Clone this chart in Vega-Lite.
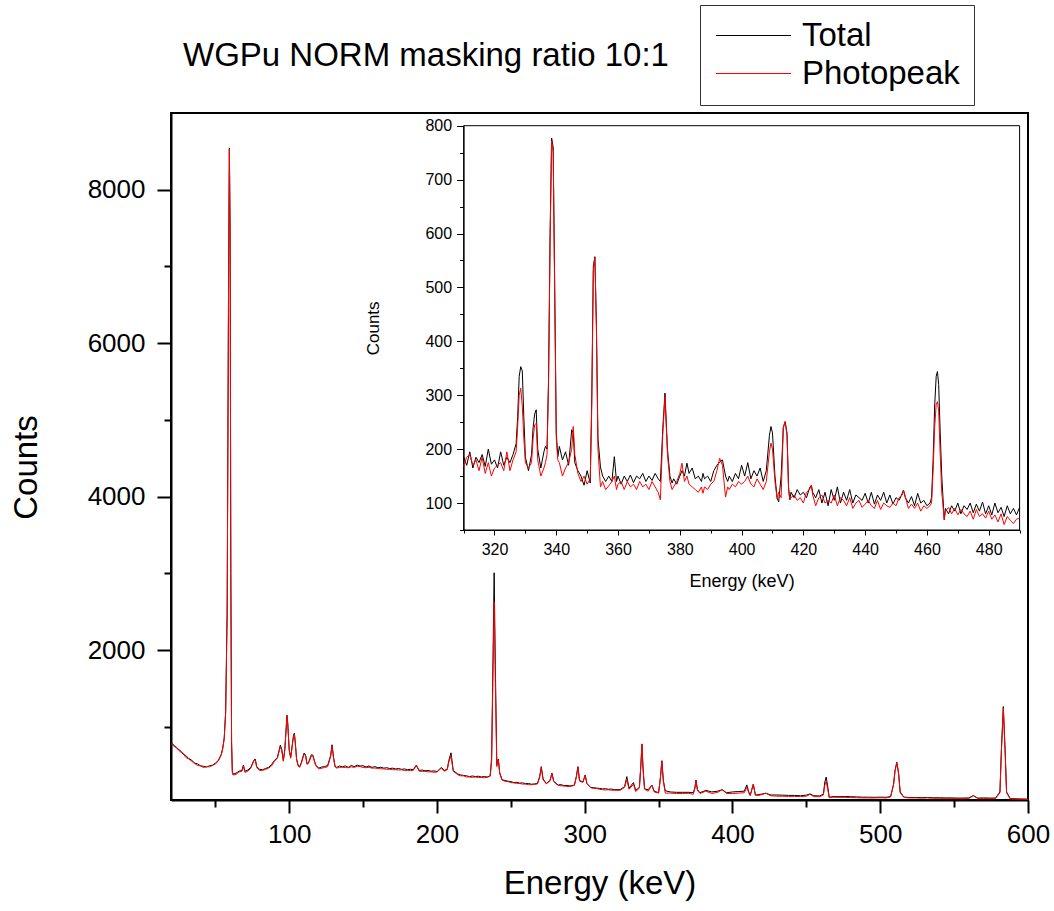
{
  "$schema": "https://vega.github.io/schema/vega-lite/v6.json",
  "width": 857,
  "height": 687,
  "autosize": "none",
  "padding": {"left": 171, "top": 113, "right": 26, "bottom": 111},
  "background": "white",
  "config": {
    "font": "Liberation Sans",
    "view": {"stroke": "black", "strokeWidth": 2},
    "axis": {"labelFont": "Liberation Sans", "titleFont": "Liberation Sans", "labelColor": "black", "titleColor": "black", "titleFontWeight": "normal", "grid": false, "domainColor": "black", "tickColor": "black"},
    "legend": {"labelFont": "Liberation Sans"}
  },
  "title": {"text": "WGPu NORM masking ratio 10:1", "anchor": "start", "frame": "group", "dx": 12, "offset": -94, "fontSize": 33, "fontWeight": "normal", "font": "Liberation Sans", "baseline": "alphabetic", "color": "black"},
  "datasets": {
    "main": [
      {"E": 20, "Total": 790, "Photopeak": 780},
      {"E": 22, "Total": 760, "Photopeak": 745},
      {"E": 24, "Total": 715, "Photopeak": 730},
      {"E": 26, "Total": 695, "Photopeak": 675},
      {"E": 28, "Total": 645, "Photopeak": 660},
      {"E": 30, "Total": 625, "Photopeak": 600},
      {"E": 32, "Total": 585, "Photopeak": 580},
      {"E": 34, "Total": 565, "Photopeak": 550},
      {"E": 36, "Total": 525, "Photopeak": 520},
      {"E": 38, "Total": 515, "Photopeak": 495},
      {"E": 40, "Total": 490, "Photopeak": 490},
      {"E": 42, "Total": 485, "Photopeak": 468},
      {"E": 44, "Total": 475, "Photopeak": 480},
      {"E": 46, "Total": 490, "Photopeak": 478},
      {"E": 48, "Total": 498, "Photopeak": 495},
      {"E": 50, "Total": 525, "Photopeak": 512},
      {"E": 52, "Total": 560, "Photopeak": 555},
      {"E": 54, "Total": 640, "Photopeak": 630},
      {"E": 55, "Total": 720, "Photopeak": 710},
      {"E": 56, "Total": 850, "Photopeak": 840},
      {"E": 57, "Total": 1200, "Photopeak": 1180},
      {"E": 58, "Total": 2500, "Photopeak": 2450},
      {"E": 59, "Total": 7000, "Photopeak": 6950},
      {"E": 59.5, "Total": 8540, "Photopeak": 8530},
      {"E": 60, "Total": 7500, "Photopeak": 7450},
      {"E": 60.5, "Total": 3000, "Photopeak": 2950},
      {"E": 61, "Total": 800, "Photopeak": 780},
      {"E": 61.5, "Total": 420, "Photopeak": 410},
      {"E": 62, "Total": 380, "Photopeak": 370},
      {"E": 64, "Total": 395, "Photopeak": 378},
      {"E": 66, "Total": 420, "Photopeak": 410},
      {"E": 68, "Total": 430, "Photopeak": 420},
      {"E": 69, "Total": 500, "Photopeak": 490},
      {"E": 70, "Total": 420, "Photopeak": 405},
      {"E": 72, "Total": 435, "Photopeak": 420},
      {"E": 74, "Total": 470, "Photopeak": 460},
      {"E": 76, "Total": 560, "Photopeak": 550},
      {"E": 77, "Total": 580, "Photopeak": 570},
      {"E": 78, "Total": 480, "Photopeak": 470},
      {"E": 80, "Total": 445, "Photopeak": 428},
      {"E": 82, "Total": 440, "Photopeak": 432},
      {"E": 84, "Total": 455, "Photopeak": 443},
      {"E": 86, "Total": 470, "Photopeak": 460},
      {"E": 88, "Total": 505, "Photopeak": 488},
      {"E": 90, "Total": 560, "Photopeak": 550},
      {"E": 92, "Total": 600, "Photopeak": 590},
      {"E": 94, "Total": 760, "Photopeak": 740},
      {"E": 95, "Total": 700, "Photopeak": 690},
      {"E": 96, "Total": 560, "Photopeak": 550},
      {"E": 97, "Total": 700, "Photopeak": 690},
      {"E": 98, "Total": 1000, "Photopeak": 990},
      {"E": 98.5, "Total": 1150, "Photopeak": 1140},
      {"E": 99, "Total": 1050, "Photopeak": 1040},
      {"E": 100, "Total": 700, "Photopeak": 690},
      {"E": 101, "Total": 600, "Photopeak": 590},
      {"E": 102, "Total": 750, "Photopeak": 740},
      {"E": 103, "Total": 900, "Photopeak": 890},
      {"E": 103.5, "Total": 915, "Photopeak": 900},
      {"E": 104, "Total": 820, "Photopeak": 810},
      {"E": 105, "Total": 580, "Photopeak": 570},
      {"E": 106, "Total": 500, "Photopeak": 490},
      {"E": 107, "Total": 480, "Photopeak": 470},
      {"E": 108, "Total": 520, "Photopeak": 510},
      {"E": 110, "Total": 655, "Photopeak": 640},
      {"E": 111, "Total": 640, "Photopeak": 630},
      {"E": 112, "Total": 520, "Photopeak": 510},
      {"E": 113, "Total": 530, "Photopeak": 520},
      {"E": 115, "Total": 635, "Photopeak": 620},
      {"E": 116, "Total": 630, "Photopeak": 620},
      {"E": 117, "Total": 560, "Photopeak": 550},
      {"E": 118, "Total": 500, "Photopeak": 490},
      {"E": 120, "Total": 460, "Photopeak": 450},
      {"E": 122, "Total": 475, "Photopeak": 458},
      {"E": 124, "Total": 480, "Photopeak": 470},
      {"E": 126, "Total": 495, "Photopeak": 478},
      {"E": 128, "Total": 620, "Photopeak": 610},
      {"E": 129, "Total": 765, "Photopeak": 750},
      {"E": 130, "Total": 600, "Photopeak": 590},
      {"E": 131, "Total": 490, "Photopeak": 480},
      {"E": 132, "Total": 470, "Photopeak": 460},
      {"E": 134, "Total": 488, "Photopeak": 470},
      {"E": 136, "Total": 478, "Photopeak": 472},
      {"E": 138, "Total": 490, "Photopeak": 468},
      {"E": 140, "Total": 470, "Photopeak": 465},
      {"E": 142, "Total": 495, "Photopeak": 478},
      {"E": 144, "Total": 480, "Photopeak": 470},
      {"E": 146, "Total": 500, "Photopeak": 485},
      {"E": 148, "Total": 488, "Photopeak": 480},
      {"E": 150, "Total": 492, "Photopeak": 470},
      {"E": 152, "Total": 475, "Photopeak": 465},
      {"E": 154, "Total": 488, "Photopeak": 472},
      {"E": 156, "Total": 470, "Photopeak": 460},
      {"E": 158, "Total": 480, "Photopeak": 462},
      {"E": 160, "Total": 465, "Photopeak": 455},
      {"E": 162, "Total": 472, "Photopeak": 452},
      {"E": 164, "Total": 460, "Photopeak": 450},
      {"E": 166, "Total": 466, "Photopeak": 446},
      {"E": 168, "Total": 455, "Photopeak": 445},
      {"E": 170, "Total": 460, "Photopeak": 440},
      {"E": 172, "Total": 450, "Photopeak": 440},
      {"E": 174, "Total": 455, "Photopeak": 436},
      {"E": 176, "Total": 445, "Photopeak": 438},
      {"E": 178, "Total": 450, "Photopeak": 430},
      {"E": 180, "Total": 440, "Photopeak": 432},
      {"E": 182, "Total": 446, "Photopeak": 428},
      {"E": 184, "Total": 440, "Photopeak": 432},
      {"E": 186, "Total": 500, "Photopeak": 495},
      {"E": 188, "Total": 430, "Photopeak": 420},
      {"E": 190, "Total": 436, "Photopeak": 418},
      {"E": 192, "Total": 425, "Photopeak": 418},
      {"E": 194, "Total": 430, "Photopeak": 412},
      {"E": 196, "Total": 420, "Photopeak": 412},
      {"E": 198, "Total": 425, "Photopeak": 406},
      {"E": 200, "Total": 415, "Photopeak": 410},
      {"E": 203, "Total": 470, "Photopeak": 460},
      {"E": 205, "Total": 430, "Photopeak": 420},
      {"E": 207, "Total": 450, "Photopeak": 440},
      {"E": 208, "Total": 560, "Photopeak": 540},
      {"E": 209.5, "Total": 660, "Photopeak": 620},
      {"E": 211, "Total": 430, "Photopeak": 420},
      {"E": 214, "Total": 385, "Photopeak": 375},
      {"E": 216, "Total": 372, "Photopeak": 360},
      {"E": 218, "Total": 365, "Photopeak": 360},
      {"E": 220, "Total": 360, "Photopeak": 345},
      {"E": 222, "Total": 350, "Photopeak": 345},
      {"E": 224, "Total": 358, "Photopeak": 340},
      {"E": 226, "Total": 350, "Photopeak": 345},
      {"E": 228, "Total": 355, "Photopeak": 338},
      {"E": 230, "Total": 345, "Photopeak": 340},
      {"E": 232, "Total": 350, "Photopeak": 335},
      {"E": 234, "Total": 345, "Photopeak": 340},
      {"E": 236, "Total": 360, "Photopeak": 355},
      {"E": 237, "Total": 600, "Photopeak": 550},
      {"E": 238, "Total": 2000, "Photopeak": 1800},
      {"E": 238.7, "Total": 3007, "Photopeak": 2630},
      {"E": 239.5, "Total": 1800, "Photopeak": 1600},
      {"E": 240.5, "Total": 500, "Photopeak": 480},
      {"E": 241.5, "Total": 580, "Photopeak": 570},
      {"E": 242.5, "Total": 400, "Photopeak": 390},
      {"E": 244, "Total": 310, "Photopeak": 305},
      {"E": 246, "Total": 300, "Photopeak": 290},
      {"E": 248, "Total": 290, "Photopeak": 285},
      {"E": 250, "Total": 285, "Photopeak": 272},
      {"E": 252, "Total": 272, "Photopeak": 268},
      {"E": 254, "Total": 275, "Photopeak": 262},
      {"E": 256, "Total": 265, "Photopeak": 260},
      {"E": 258, "Total": 268, "Photopeak": 252},
      {"E": 260, "Total": 258, "Photopeak": 252},
      {"E": 262, "Total": 260, "Photopeak": 245},
      {"E": 264, "Total": 250, "Photopeak": 245},
      {"E": 266, "Total": 255, "Photopeak": 248},
      {"E": 268, "Total": 260, "Photopeak": 255},
      {"E": 269.5, "Total": 350, "Photopeak": 340},
      {"E": 270.6, "Total": 480, "Photopeak": 470},
      {"E": 271.8, "Total": 320, "Photopeak": 310},
      {"E": 274, "Total": 260, "Photopeak": 255},
      {"E": 276.5, "Total": 300, "Photopeak": 295},
      {"E": 277.8, "Total": 395, "Photopeak": 390},
      {"E": 279, "Total": 290, "Photopeak": 285},
      {"E": 282, "Total": 240, "Photopeak": 235},
      {"E": 284, "Total": 245, "Photopeak": 230},
      {"E": 286, "Total": 232, "Photopeak": 228},
      {"E": 288, "Total": 236, "Photopeak": 222},
      {"E": 290, "Total": 228, "Photopeak": 222},
      {"E": 293, "Total": 240, "Photopeak": 235},
      {"E": 294.3, "Total": 350, "Photopeak": 340},
      {"E": 295.4, "Total": 480, "Photopeak": 470},
      {"E": 296.5, "Total": 300, "Photopeak": 290},
      {"E": 298.8, "Total": 280, "Photopeak": 275},
      {"E": 300.3, "Total": 372, "Photopeak": 365},
      {"E": 301.5, "Total": 260, "Photopeak": 255},
      {"E": 304, "Total": 210, "Photopeak": 205},
      {"E": 306, "Total": 206, "Photopeak": 196},
      {"E": 308, "Total": 200, "Photopeak": 195},
      {"E": 310, "Total": 196, "Photopeak": 184},
      {"E": 312, "Total": 190, "Photopeak": 180},
      {"E": 314, "Total": 192, "Photopeak": 176},
      {"E": 316, "Total": 185, "Photopeak": 178},
      {"E": 318, "Total": 188, "Photopeak": 172},
      {"E": 320, "Total": 180, "Photopeak": 172},
      {"E": 324, "Total": 180, "Photopeak": 172},
      {"E": 327, "Total": 220, "Photopeak": 210},
      {"E": 328.5, "Total": 350, "Photopeak": 313},
      {"E": 330, "Total": 200, "Photopeak": 185},
      {"E": 333, "Total": 272, "Photopeak": 250},
      {"E": 334.5, "Total": 170, "Photopeak": 155},
      {"E": 337, "Total": 210, "Photopeak": 200},
      {"E": 338, "Total": 500, "Photopeak": 490},
      {"E": 338.7, "Total": 776, "Photopeak": 772},
      {"E": 339.5, "Total": 450, "Photopeak": 440},
      {"E": 340.5, "Total": 190, "Photopeak": 185},
      {"E": 343, "Total": 180, "Photopeak": 160},
      {"E": 345.4, "Total": 240, "Photopeak": 240},
      {"E": 347, "Total": 160, "Photopeak": 150},
      {"E": 350, "Total": 140, "Photopeak": 135},
      {"E": 351.3, "Total": 350, "Photopeak": 340},
      {"E": 352.2, "Total": 557, "Photopeak": 555},
      {"E": 353.2, "Total": 300, "Photopeak": 290},
      {"E": 354.5, "Total": 165, "Photopeak": 135},
      {"E": 358, "Total": 150, "Photopeak": 135},
      {"E": 362, "Total": 145, "Photopeak": 130},
      {"E": 366, "Total": 145, "Photopeak": 130},
      {"E": 370, "Total": 145, "Photopeak": 132},
      {"E": 373.5, "Total": 140, "Photopeak": 120},
      {"E": 374.5, "Total": 200, "Photopeak": 190},
      {"E": 375.3, "Total": 304, "Photopeak": 297},
      {"E": 376.3, "Total": 180, "Photopeak": 170},
      {"E": 378, "Total": 140, "Photopeak": 130},
      {"E": 382, "Total": 170, "Photopeak": 160},
      {"E": 386, "Total": 150, "Photopeak": 130},
      {"E": 390, "Total": 160, "Photopeak": 145},
      {"E": 393, "Total": 180, "Photopeak": 180},
      {"E": 396, "Total": 140, "Photopeak": 130},
      {"E": 400, "Total": 150, "Photopeak": 130},
      {"E": 404, "Total": 155, "Photopeak": 135},
      {"E": 408, "Total": 160, "Photopeak": 140},
      {"E": 409.7, "Total": 242, "Photopeak": 211},
      {"E": 411, "Total": 150, "Photopeak": 140},
      {"E": 412, "Total": 105, "Photopeak": 105},
      {"E": 414.1, "Total": 251, "Photopeak": 251},
      {"E": 415.5, "Total": 110, "Photopeak": 108},
      {"E": 418, "Total": 115, "Photopeak": 105},
      {"E": 422.5, "Total": 133, "Photopeak": 133},
      {"E": 426, "Total": 110, "Photopeak": 100},
      {"E": 430, "Total": 110, "Photopeak": 95},
      {"E": 434, "Total": 108, "Photopeak": 94},
      {"E": 438, "Total": 105, "Photopeak": 92},
      {"E": 442, "Total": 105, "Photopeak": 92},
      {"E": 446, "Total": 100, "Photopeak": 90},
      {"E": 450, "Total": 108, "Photopeak": 95},
      {"E": 452.5, "Total": 125, "Photopeak": 120},
      {"E": 455, "Total": 100, "Photopeak": 90},
      {"E": 459, "Total": 98, "Photopeak": 88},
      {"E": 461.5, "Total": 120, "Photopeak": 110},
      {"E": 462.5, "Total": 280, "Photopeak": 240},
      {"E": 463.4, "Total": 344, "Photopeak": 288},
      {"E": 464.3, "Total": 240, "Photopeak": 200},
      {"E": 465.5, "Total": 80, "Photopeak": 75},
      {"E": 468, "Total": 90, "Photopeak": 82},
      {"E": 472, "Total": 88, "Photopeak": 80},
      {"E": 476, "Total": 90, "Photopeak": 80},
      {"E": 480, "Total": 88, "Photopeak": 76},
      {"E": 484, "Total": 85, "Photopeak": 75},
      {"E": 488, "Total": 82, "Photopeak": 72},
      {"E": 492, "Total": 82, "Photopeak": 72},
      {"E": 496, "Total": 80, "Photopeak": 72},
      {"E": 500, "Total": 82, "Photopeak": 74},
      {"E": 504, "Total": 80, "Photopeak": 72},
      {"E": 507, "Total": 90, "Photopeak": 85},
      {"E": 509, "Total": 250, "Photopeak": 240},
      {"E": 510, "Total": 430, "Photopeak": 420},
      {"E": 511.2, "Total": 538, "Photopeak": 530},
      {"E": 512.4, "Total": 400, "Photopeak": 390},
      {"E": 513.5, "Total": 150, "Photopeak": 140},
      {"E": 516, "Total": 82, "Photopeak": 78},
      {"E": 520, "Total": 78, "Photopeak": 72},
      {"E": 524, "Total": 78, "Photopeak": 72},
      {"E": 528, "Total": 76, "Photopeak": 70},
      {"E": 532, "Total": 78, "Photopeak": 72},
      {"E": 536, "Total": 74, "Photopeak": 68},
      {"E": 540, "Total": 74, "Photopeak": 68},
      {"E": 544, "Total": 72, "Photopeak": 66},
      {"E": 548, "Total": 72, "Photopeak": 66},
      {"E": 552, "Total": 70, "Photopeak": 64},
      {"E": 556, "Total": 70, "Photopeak": 64},
      {"E": 560, "Total": 72, "Photopeak": 66},
      {"E": 563, "Total": 103, "Photopeak": 100},
      {"E": 566, "Total": 70, "Photopeak": 64},
      {"E": 570, "Total": 72, "Photopeak": 64},
      {"E": 574, "Total": 70, "Photopeak": 64},
      {"E": 578, "Total": 70, "Photopeak": 64},
      {"E": 581, "Total": 150, "Photopeak": 140},
      {"E": 582, "Total": 700, "Photopeak": 680},
      {"E": 583.3, "Total": 1262, "Photopeak": 1240},
      {"E": 584.5, "Total": 700, "Photopeak": 680},
      {"E": 585.5, "Total": 150, "Photopeak": 140},
      {"E": 588, "Total": 62, "Photopeak": 58},
      {"E": 592, "Total": 60, "Photopeak": 56},
      {"E": 596, "Total": 58, "Photopeak": 54},
      {"E": 600, "Total": 56, "Photopeak": 52}
    ],
    "inset": [
      {"E": 310, "Total": 186, "Photopeak": 168},
      {"E": 311, "Total": 170, "Photopeak": 185},
      {"E": 312, "Total": 195, "Photopeak": 190},
      {"E": 313, "Total": 165, "Photopeak": 170},
      {"E": 314, "Total": 185, "Photopeak": 180},
      {"E": 315, "Total": 175, "Photopeak": 160},
      {"E": 316, "Total": 190, "Photopeak": 185},
      {"E": 317, "Total": 168, "Photopeak": 155},
      {"E": 318, "Total": 200, "Photopeak": 175},
      {"E": 319, "Total": 172, "Photopeak": 150},
      {"E": 320, "Total": 180, "Photopeak": 165},
      {"E": 321, "Total": 165, "Photopeak": 170},
      {"E": 322, "Total": 195, "Photopeak": 175},
      {"E": 323, "Total": 170, "Photopeak": 160},
      {"E": 324, "Total": 185, "Photopeak": 195},
      {"E": 325, "Total": 175, "Photopeak": 160},
      {"E": 326, "Total": 190, "Photopeak": 180},
      {"E": 327, "Total": 210, "Photopeak": 195},
      {"E": 327.5, "Total": 260, "Photopeak": 240},
      {"E": 328, "Total": 335, "Photopeak": 300},
      {"E": 328.5, "Total": 353, "Photopeak": 313},
      {"E": 329, "Total": 345, "Photopeak": 280},
      {"E": 329.5, "Total": 260, "Photopeak": 220},
      {"E": 330, "Total": 185, "Photopeak": 175},
      {"E": 331, "Total": 160, "Photopeak": 165},
      {"E": 332, "Total": 190, "Photopeak": 175},
      {"E": 332.5, "Total": 240, "Photopeak": 220},
      {"E": 333, "Total": 265, "Photopeak": 245},
      {"E": 333.5, "Total": 273, "Photopeak": 248},
      {"E": 334, "Total": 200, "Photopeak": 180},
      {"E": 335, "Total": 165, "Photopeak": 150},
      {"E": 336, "Total": 195, "Photopeak": 165},
      {"E": 336.5, "Total": 205, "Photopeak": 175},
      {"E": 337, "Total": 200, "Photopeak": 190},
      {"E": 337.5, "Total": 330, "Photopeak": 320},
      {"E": 338, "Total": 600, "Photopeak": 580},
      {"E": 338.5, "Total": 777, "Photopeak": 772},
      {"E": 339, "Total": 760, "Photopeak": 750},
      {"E": 339.5, "Total": 500, "Photopeak": 480},
      {"E": 340, "Total": 230, "Photopeak": 220},
      {"E": 340.5, "Total": 186, "Photopeak": 180},
      {"E": 341, "Total": 205, "Photopeak": 175},
      {"E": 342, "Total": 180, "Photopeak": 150},
      {"E": 343, "Total": 195, "Photopeak": 165},
      {"E": 344, "Total": 170, "Photopeak": 175},
      {"E": 345, "Total": 236, "Photopeak": 200},
      {"E": 345.5, "Total": 230, "Photopeak": 242},
      {"E": 346, "Total": 175, "Photopeak": 190},
      {"E": 347, "Total": 160, "Photopeak": 155},
      {"E": 348, "Total": 150, "Photopeak": 140},
      {"E": 349, "Total": 133, "Photopeak": 150},
      {"E": 350, "Total": 160, "Photopeak": 135},
      {"E": 351, "Total": 137, "Photopeak": 145},
      {"E": 351.5, "Total": 300, "Photopeak": 280},
      {"E": 352, "Total": 540, "Photopeak": 530},
      {"E": 352.5, "Total": 557, "Photopeak": 555},
      {"E": 353, "Total": 430, "Photopeak": 420},
      {"E": 353.5, "Total": 220, "Photopeak": 200},
      {"E": 354.3, "Total": 167, "Photopeak": 130},
      {"E": 355, "Total": 150, "Photopeak": 140},
      {"E": 356, "Total": 140, "Photopeak": 125},
      {"E": 357, "Total": 150, "Photopeak": 132},
      {"E": 358, "Total": 140, "Photopeak": 140},
      {"E": 358.8, "Total": 186, "Photopeak": 150},
      {"E": 359.5, "Total": 140, "Photopeak": 125},
      {"E": 360, "Total": 150, "Photopeak": 135},
      {"E": 361, "Total": 135, "Photopeak": 140},
      {"E": 362, "Total": 150, "Photopeak": 125},
      {"E": 363, "Total": 140, "Photopeak": 140},
      {"E": 364, "Total": 152, "Photopeak": 130},
      {"E": 365, "Total": 138, "Photopeak": 135},
      {"E": 366, "Total": 150, "Photopeak": 125},
      {"E": 367, "Total": 145, "Photopeak": 140},
      {"E": 368, "Total": 155, "Photopeak": 130},
      {"E": 369, "Total": 140, "Photopeak": 135},
      {"E": 370, "Total": 150, "Photopeak": 125},
      {"E": 371, "Total": 142, "Photopeak": 140},
      {"E": 372, "Total": 155, "Photopeak": 130},
      {"E": 373, "Total": 145, "Photopeak": 120},
      {"E": 373.7, "Total": 140, "Photopeak": 106},
      {"E": 374.5, "Total": 240, "Photopeak": 230},
      {"E": 375.2, "Total": 304, "Photopeak": 297},
      {"E": 376, "Total": 200, "Photopeak": 190},
      {"E": 376.8, "Total": 150, "Photopeak": 140},
      {"E": 377.5, "Total": 137, "Photopeak": 125},
      {"E": 378, "Total": 145, "Photopeak": 130},
      {"E": 379, "Total": 135, "Photopeak": 140},
      {"E": 380, "Total": 150, "Photopeak": 155},
      {"E": 380.7, "Total": 160, "Photopeak": 174},
      {"E": 381.5, "Total": 150, "Photopeak": 140},
      {"E": 382.3, "Total": 174, "Photopeak": 150},
      {"E": 383, "Total": 155, "Photopeak": 135},
      {"E": 384, "Total": 165, "Photopeak": 130},
      {"E": 385, "Total": 145, "Photopeak": 125},
      {"E": 386, "Total": 150, "Photopeak": 120},
      {"E": 387, "Total": 140, "Photopeak": 130},
      {"E": 387.5, "Total": 155, "Photopeak": 118},
      {"E": 388, "Total": 145, "Photopeak": 130},
      {"E": 389, "Total": 150, "Photopeak": 125},
      {"E": 390, "Total": 140, "Photopeak": 135},
      {"E": 391, "Total": 160, "Photopeak": 140},
      {"E": 392, "Total": 170, "Photopeak": 160},
      {"E": 392.9, "Total": 176, "Photopeak": 183},
      {"E": 393.8, "Total": 180, "Photopeak": 170},
      {"E": 394.8, "Total": 150, "Photopeak": 111},
      {"E": 395.5, "Total": 140, "Photopeak": 130},
      {"E": 396, "Total": 150, "Photopeak": 125},
      {"E": 397, "Total": 140, "Photopeak": 135},
      {"E": 398, "Total": 155, "Photopeak": 130},
      {"E": 399, "Total": 145, "Photopeak": 140},
      {"E": 400, "Total": 170, "Photopeak": 135},
      {"E": 401, "Total": 150, "Photopeak": 140},
      {"E": 402, "Total": 175, "Photopeak": 150},
      {"E": 403, "Total": 145, "Photopeak": 135},
      {"E": 404, "Total": 160, "Photopeak": 130},
      {"E": 405, "Total": 150, "Photopeak": 145},
      {"E": 406, "Total": 165, "Photopeak": 135},
      {"E": 407, "Total": 140, "Photopeak": 125},
      {"E": 408, "Total": 160, "Photopeak": 140},
      {"E": 409, "Total": 225, "Photopeak": 195},
      {"E": 409.5, "Total": 242, "Photopeak": 211},
      {"E": 410, "Total": 230, "Photopeak": 200},
      {"E": 410.8, "Total": 150, "Photopeak": 140},
      {"E": 411.5, "Total": 110, "Photopeak": 108},
      {"E": 412, "Total": 102, "Photopeak": 120},
      {"E": 412.8, "Total": 150, "Photopeak": 110},
      {"E": 413.5, "Total": 240, "Photopeak": 240},
      {"E": 414.1, "Total": 251, "Photopeak": 251},
      {"E": 414.7, "Total": 230, "Photopeak": 225},
      {"E": 415.2, "Total": 130, "Photopeak": 125},
      {"E": 415.6, "Total": 106, "Photopeak": 106},
      {"E": 416, "Total": 120, "Photopeak": 110},
      {"E": 417, "Total": 110, "Photopeak": 115},
      {"E": 418, "Total": 125, "Photopeak": 105},
      {"E": 419, "Total": 115, "Photopeak": 110},
      {"E": 420, "Total": 120, "Photopeak": 100},
      {"E": 421, "Total": 110, "Photopeak": 120},
      {"E": 422, "Total": 128, "Photopeak": 125},
      {"E": 422.6, "Total": 133, "Photopeak": 133},
      {"E": 423, "Total": 120, "Photopeak": 115},
      {"E": 424, "Total": 110, "Photopeak": 95},
      {"E": 425, "Total": 125, "Photopeak": 110},
      {"E": 426, "Total": 100, "Photopeak": 115},
      {"E": 427, "Total": 120, "Photopeak": 100},
      {"E": 428, "Total": 95, "Photopeak": 105},
      {"E": 429, "Total": 125, "Photopeak": 100},
      {"E": 430, "Total": 105, "Photopeak": 115},
      {"E": 431, "Total": 130, "Photopeak": 95},
      {"E": 432, "Total": 100, "Photopeak": 110},
      {"E": 433, "Total": 120, "Photopeak": 105},
      {"E": 434, "Total": 105, "Photopeak": 95},
      {"E": 435, "Total": 125, "Photopeak": 110},
      {"E": 436, "Total": 100, "Photopeak": 90},
      {"E": 437, "Total": 115, "Photopeak": 100},
      {"E": 438, "Total": 110, "Photopeak": 105},
      {"E": 439, "Total": 105, "Photopeak": 92},
      {"E": 440, "Total": 118, "Photopeak": 98},
      {"E": 441, "Total": 100, "Photopeak": 105},
      {"E": 442, "Total": 120, "Photopeak": 95},
      {"E": 443, "Total": 98, "Photopeak": 90},
      {"E": 444, "Total": 115, "Photopeak": 105},
      {"E": 445, "Total": 105, "Photopeak": 88},
      {"E": 446, "Total": 120, "Photopeak": 100},
      {"E": 447, "Total": 100, "Photopeak": 95},
      {"E": 448, "Total": 115, "Photopeak": 92},
      {"E": 449, "Total": 98, "Photopeak": 100},
      {"E": 450, "Total": 110, "Photopeak": 95},
      {"E": 451, "Total": 105, "Photopeak": 110},
      {"E": 452, "Total": 118, "Photopeak": 115},
      {"E": 452.4, "Total": 124, "Photopeak": 124},
      {"E": 453, "Total": 110, "Photopeak": 112},
      {"E": 454, "Total": 100, "Photopeak": 90},
      {"E": 455, "Total": 112, "Photopeak": 98},
      {"E": 456, "Total": 95, "Photopeak": 90},
      {"E": 457, "Total": 118, "Photopeak": 100},
      {"E": 458, "Total": 100, "Photopeak": 85},
      {"E": 459, "Total": 105, "Photopeak": 95},
      {"E": 460, "Total": 95, "Photopeak": 90},
      {"E": 461, "Total": 100, "Photopeak": 95},
      {"E": 461.5, "Total": 110, "Photopeak": 100},
      {"E": 462, "Total": 180, "Photopeak": 160},
      {"E": 462.5, "Total": 280, "Photopeak": 240},
      {"E": 463, "Total": 335, "Photopeak": 283},
      {"E": 463.4, "Total": 344, "Photopeak": 288},
      {"E": 463.8, "Total": 320, "Photopeak": 270},
      {"E": 464.3, "Total": 230, "Photopeak": 190},
      {"E": 464.8, "Total": 150, "Photopeak": 120},
      {"E": 465.6, "Total": 69, "Photopeak": 70},
      {"E": 466, "Total": 90, "Photopeak": 85},
      {"E": 467, "Total": 80, "Photopeak": 92},
      {"E": 468, "Total": 95, "Photopeak": 80},
      {"E": 469, "Total": 85, "Photopeak": 90},
      {"E": 470, "Total": 100, "Photopeak": 78},
      {"E": 471, "Total": 80, "Photopeak": 88},
      {"E": 472, "Total": 95, "Photopeak": 80},
      {"E": 473, "Total": 88, "Photopeak": 75},
      {"E": 474, "Total": 100, "Photopeak": 85},
      {"E": 475, "Total": 82, "Photopeak": 70},
      {"E": 476, "Total": 98, "Photopeak": 88},
      {"E": 477, "Total": 85, "Photopeak": 75},
      {"E": 478, "Total": 102, "Photopeak": 80},
      {"E": 479, "Total": 80, "Photopeak": 72},
      {"E": 480, "Total": 95, "Photopeak": 85},
      {"E": 481, "Total": 78, "Photopeak": 70},
      {"E": 482, "Total": 100, "Photopeak": 78},
      {"E": 483, "Total": 82, "Photopeak": 65},
      {"E": 484, "Total": 92, "Photopeak": 80},
      {"E": 485, "Total": 75, "Photopeak": 60},
      {"E": 486, "Total": 95, "Photopeak": 75},
      {"E": 487, "Total": 80, "Photopeak": 68},
      {"E": 488, "Total": 90, "Photopeak": 62},
      {"E": 489, "Total": 78, "Photopeak": 70},
      {"E": 490, "Total": 92, "Photopeak": 72}
    ]
  },
  "layer": [
    {
      "data": {"name": "main"},
      "transform": [{"fold": ["Total", "Photopeak"], "as": ["series", "counts"]}],
      "mark": {"type": "line", "strokeWidth": 1},
      "encoding": {
        "x": {"field": "E", "type": "quantitative",
          "scale": {"domain": [20, 600], "nice": false, "zero": false},
          "axis": {"title": "Energy (keV)", "values": [50, 100, 150, 200, 250, 300, 350, 400, 450, 500, 550, 600],
            "labelExpr": "datum.value % 100 == 0 ? datum.label : ''", "format": "d",
            "tickSize": {"condition": {"test": "datum.value % 100 == 0", "value": 13}, "value": 7},
            "tickWidth": 2, "domainWidth": 2, "labelFontSize": 26, "titleFontSize": 33, "labelPadding": 8, "titlePadding": 20, "labelFlush": false}},
        "y": {"field": "counts", "type": "quantitative",
          "scale": {"domain": [45, 9000], "nice": false, "zero": false},
          "axis": {"title": "Counts", "values": [1000, 2000, 3000, 4000, 5000, 6000, 7000, 8000],
            "labelExpr": "datum.value % 2000 == 0 ? datum.label : ''", "format": "d",
            "tickSize": {"condition": {"test": "datum.value % 2000 == 0", "value": 14}, "value": 7},
            "tickWidth": 2, "domainWidth": 2, "labelFontSize": 26, "titleFontSize": 33, "labelPadding": 12, "titlePadding": 44, "labelFlush": false, "titleY": 354}},
        "color": {"field": "series", "type": "nominal",
          "scale": {"domain": ["Total", "Photopeak"], "range": ["#000000", "#ff0000"]},
          "legend": {"orient": "none", "legendX": 529, "legendY": -108, "title": null, "symbolType": "M-3,0H3", "symbolSize": 625, "symbolStrokeWidth": 1, "labelFontSize": 33, "labelOffset": 32, "padding": 14, "rowPadding": 4, "strokeColor": "#333333", "fillColor": "white", "symbolOffset": 23, "labelColor": "black", "labelLimit": 400}}
      }
    },
    {
      "layer": [
        {
          "data": {"values": [{"x1": 310, "x2": 490, "y1": 50, "y2": 800}]},
          "mark": {"type": "rect", "filled": false, "stroke": "black", "strokeWidth": 1},
          "encoding": {
            "x": {"field": "x1", "type": "quantitative", "scale": {"domain": [310, 490], "range": [292.6, 848.6], "nice": false, "zero": false}},
            "x2": {"field": "x2"},
            "y": {"field": "y1", "type": "quantitative", "scale": {"domain": [50, 800], "range": [417, 12.7], "nice": false, "zero": false}},
            "y2": {"field": "y2"}
          }
        },
        {
          "data": {"name": "inset"},
          "transform": [{"fold": ["Total", "Photopeak"], "as": ["series", "counts"]}],
          "mark": {"type": "line", "strokeWidth": 1},
          "encoding": {
            "x": {"field": "E", "type": "quantitative",
              "scale": {"domain": [310, 490], "range": [292.6, 848.6], "nice": false, "zero": false},
              "axis": {"orient": "bottom", "offset": -270, "title": "Energy (keV)", "values": [310, 320, 330, 340, 350, 360, 370, 380, 390, 400, 410, 420, 430, 440, 450, 460, 470, 480, 490],
                "labelExpr": "datum.value % 20 == 0 ? datum.label : ''", "format": "d",
                "tickSize": {"condition": {"test": "datum.value % 20 == 0", "value": 5}, "value": 3},
                "tickWidth": 1, "domainWidth": 1, "labelFontSize": 16, "titleFontSize": 18, "labelPadding": 6, "titlePadding": 15, "labelFlush": false}},
            "y": {"field": "counts", "type": "quantitative",
              "scale": {"domain": [50, 800], "range": [417, 12.7], "nice": false, "zero": false},
              "axis": {"orient": "left", "offset": -292.6, "title": "Counts", "values": [50, 100, 150, 200, 250, 300, 350, 400, 450, 500, 550, 600, 650, 700, 750, 800],
                "labelExpr": "datum.value % 100 == 0 ? datum.label : ''", "format": "d",
                "tickSize": {"condition": {"test": "datum.value % 100 == 0", "value": 7}, "value": 4},
                "tickWidth": 1, "domainWidth": 1, "labelFontSize": 16, "titleFontSize": 17, "labelPadding": 5, "titlePadding": 42, "labelFlush": false}},
            "color": {"field": "series", "type": "nominal", "scale": {"domain": ["Total", "Photopeak"], "range": ["#000000", "#ff0000"]}}
          }
        }
      ]
    }
  ],
  "resolve": {"scale": {"x": "independent", "y": "independent"}, "axis": {"x": "independent", "y": "independent"}}
}
